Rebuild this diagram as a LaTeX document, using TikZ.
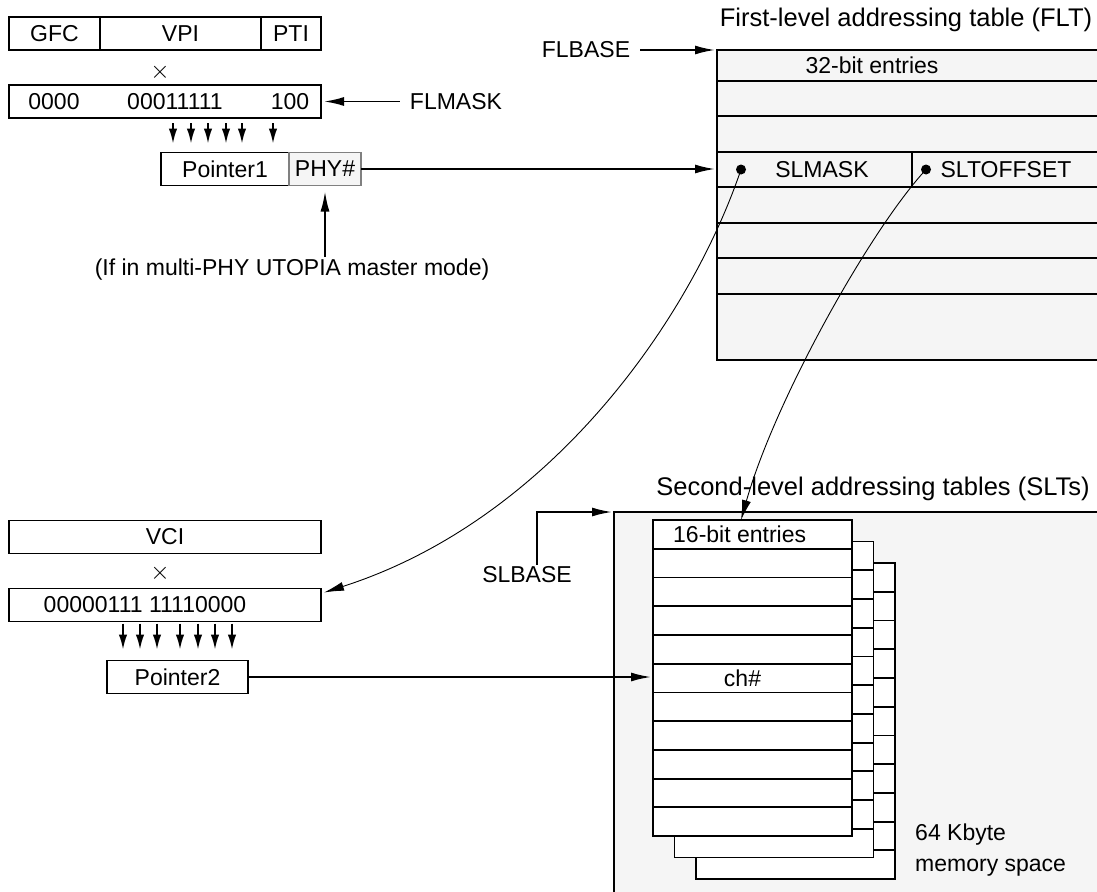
\documentclass[tikz,border=0pt]{standalone}
\usepackage{fontspec}
\setmainfont{Liberation Sans}
\usetikzlibrary{arrows.meta,positioning}
\definecolor{panel}{HTML}{F5F5F5}

\begin{document}
\begin{tikzpicture}[
  x=1pt, y=-1pt,
  font=\fontsize{23}{27}\selectfont,
  box/.style={draw, line width=1.8pt, minimum height=33pt, inner sep=0pt, outer sep=0pt},
  lbl/.style={inner sep=2pt},
  ttl/.style={inner sep=2pt, font=\fontsize{25.5}{30}\selectfont},
  tbl/.style={draw, fill=panel, line width=1.8pt, anchor=north west, inner sep=0pt, outer sep=0pt},
  rowbox/.style={draw, fill=white, line width=1.8pt, minimum width=199pt,
    minimum height=28.73pt, inner sep=0pt, outer sep=0pt},
  arr/.style={-{Latex[length=20pt,width=9pt]}, line width=1.8pt},
  bitarr/.style={-{Latex[length=15pt,width=8.5pt]}, line width=1.8pt},
  link/.style={-{Latex[length=20pt,width=9pt]}, line width=0.9pt},
  dot/.style={circle, fill, inner sep=0pt, minimum size=10pt}
]
\useasboundingbox (0,0) rectangle (1097,891);
\clip (0,0) rectangle (1097,891);

% header and first-level mask
\node[box, minimum width=91pt] (gfc) at (54.5,33.5) {GFC};
\node[box, minimum width=161pt, right=0pt of gfc] (vpi) {VPI};
\node[box, minimum width=60pt, right=0pt of vpi] (pti) {PTI};
\node[lbl] (x1) at (160,72) {$\times$};
\node[box, minimum width=312pt] (flmask) at (165,101.5) {};
\node[lbl] (m1a) at (54,101.5) {0000};
\node[lbl] (m1b) at (175,101.5) {00011111};
\node[lbl] (m1c) at (290,101.5) {100};
\node[lbl] (flmasklbl) at (456,101.5) {FLMASK};
\node[box, minimum width=128pt] (ptr1) at (225,169) {Pointer1};
\node[box, draw=gray, fill=panel, minimum width=72pt, right=0pt of ptr1] (phy) {PHY\#};
\node[lbl] (note) at (292,270) {(If in multi-PHY UTOPIA master mode)};

\draw[arr, shorten >=3pt] ([xshift=-8pt]flmasklbl.west) -- (flmask.east);
\foreach \x in {173,191,208,226,242,273}
  \draw[bitarr, shorten <=5pt, shorten >=9pt] (flmask.south -| \x,0) -- (ptr1.north -| \x,0);
\draw[arr] (note.north -| phy.south) -- ([yshift=-6pt]phy.south);

% first-level table
\node[tbl, minimum width=420pt, minimum height=310pt] (flt) at (717,50) {};
\foreach \y in {81,116,152,187,223,258,294}
  \draw[line width=1.8pt] (flt.west |- 0,\y) -- (flt.east |- 0,\y);
\draw[line width=1.8pt] (912,152) -- (912,187);
\node[ttl] (flttitle) at (906,20) {First-level addressing table (FLT)};
\node[lbl] (flbase) at (586,50) {FLBASE};
\node[lbl] (bits32) at (872,65.5) {32-bit entries};
\node[dot] (dmask) at (741,169.5) {};
\node[lbl] (slmask) at (822,169.5) {SLMASK};
\node[dot] (doff) at (926,169.5) {};
\node[lbl] (sltoff) at (1006,169.5) {SLTOFFSET};
\draw[arr, shorten >=2pt] ([xshift=8pt]flbase.east |- flt.north west) -- (flt.north west);
\draw[arr, shorten >=2pt] (phy.east) -- (phy.east -| flt.west);

% VCI and second-level mask
\node[box, minimum width=312pt] (vci) at (165,537) {VCI};
\node[lbl] (x2) at (160,573) {$\times$};
\node[box, minimum width=312pt] (vcimask) at (165,605) {};
\node[lbl] (m2) at (145,605) {00000111 11110000};
\node[box, minimum width=141pt] (ptr2) at (177.5,677) {Pointer2};
\foreach \x in {123,140,157,180,198,215,232}
  \draw[bitarr, shorten <=2pt, shorten >=11pt] (vcimask.south -| \x,0) -- (ptr2.north -| \x,0);

% second-level tables
\node[tbl, minimum width=520pt, minimum height=420pt] (slt) at (614,512) {};
\node[ttl] (slttitle) at (873,489) {Second-level addressing tables (SLTs)};
\node[lbl] (slbase) at (527,575) {SLBASE};
\draw[arr, shorten >=2pt] ([xshift=10pt]slbase.north) |- (slt.north west);
\foreach \k/\d in {2/43,1/21.5,0/0}
  \foreach \r in {0,...,10}
    \node[rowbox] (sl\k-\r) at (752.5+\d, 534.4+\r*28.73+\d) {};
\node[lbl, anchor=west] (e16) at ([xshift=18pt]sl0-0.west) {16-bit entries};
\node[lbl] (chn) at ([xshift=-10pt]sl0-5.center) {ch\#};
\node[lbl, anchor=west] (mem1) at (913,835) {64 Kbyte};
\node[lbl, anchor=west] (mem2) at (913,868) {memory space};
\draw[arr, shorten >=2pt] (ptr2.east) -- (ptr2.east -| sl0-5.west);

% pointers out of the FLT entry
\draw[link] (dmask.center) .. controls (690,320) and (550,520) .. ([shift={(3,4)}]vcimask.north east);
\draw[link] (doff.center) .. controls (870,230) and (775,400) .. ([xshift=-11.5pt]sl0-0.north);
\end{tikzpicture}
\end{document}
